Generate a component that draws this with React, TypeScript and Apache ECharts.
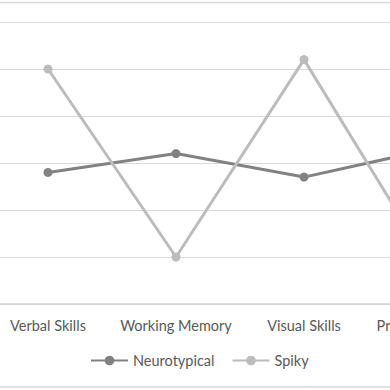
import React, { useEffect, useRef } from "react";
import * as echarts from "echarts";

const categories = ["Verbal Skills", "Working Memory", "Visual Skills", "Processing Speed"];
const neurotypical = [2.8, 3.2, 2.7, 3.3];
const spiky = [5.0, 1.0, 5.2, 0.75];

export default function App() {
  const ref = useRef<HTMLDivElement>(null);
  useEffect(() => {
    document.body.style.margin = "0";
    const chart = echarts.init(ref.current!, undefined, { renderer: "svg" });
    const font = "Lato, 'Open Sans', sans-serif";
    chart.setOption({
      animation: false,
      backgroundColor: "#ffffff",
      grid: { left: 0, right: 0, top: 22, bottom: 86, containLabel: false },
      xAxis: {
        type: "category",
        data: categories,
        boundaryGap: true,
        axisLine: { lineStyle: { color: "#d0d0d0", width: 1.5 } },
        axisTick: { show: false },
        axisLabel: { color: "#595959", fontSize: 14.5, fontFamily: font, margin: 14, interval: 0 },
      },
      yAxis: {
        type: "value",
        min: 0,
        max: 6,
        interval: 1,
        axisLabel: { show: false },
        axisLine: { show: false },
        axisTick: { show: false },
        splitLine: { lineStyle: { color: "#d9d9d9", width: 1.2 } },
      },
      legend: {
        top: 353,
        left: 106,
        padding: 0,
        itemWidth: 37,
        itemHeight: 12,
        itemGap: 17,
        textStyle: { color: "#595959", fontSize: 14.5, fontFamily: font },
        data: ["Neurotypical", "Spiky"],
      },
      graphic: [
        { type: "line", shape: { x1: 0, y1: 2.5, x2: 512, y2: 2.5 }, style: { stroke: "#d9d9d9", lineWidth: 1.5 } },
        { type: "line", shape: { x1: 0, y1: 387, x2: 512, y2: 387 }, style: { stroke: "#d9d9d9", lineWidth: 1.5 } },
      ],
      series: [
        {
          name: "Neurotypical",
          type: "line",
          data: neurotypical,
          symbol: "circle",
          symbolSize: 9,
          lineStyle: { color: "#828282", width: 3 },
          itemStyle: { color: "#828282" },
        },
        {
          name: "Spiky",
          type: "line",
          data: spiky,
          symbol: "circle",
          symbolSize: 9,
          lineStyle: { color: "#bcbcbc", width: 3 },
          itemStyle: { color: "#bcbcbc" },
        },
      ],
    });
    return () => chart.dispose();
  }, []);
  return (
    <div style={{ width: 390, height: 390, position: "absolute", left: 0, top: 0, overflow: "hidden" }}>
      <div ref={ref} style={{ width: 512, height: 390, position: "absolute", left: -16, top: 0 }} />
    </div>
  );
}
